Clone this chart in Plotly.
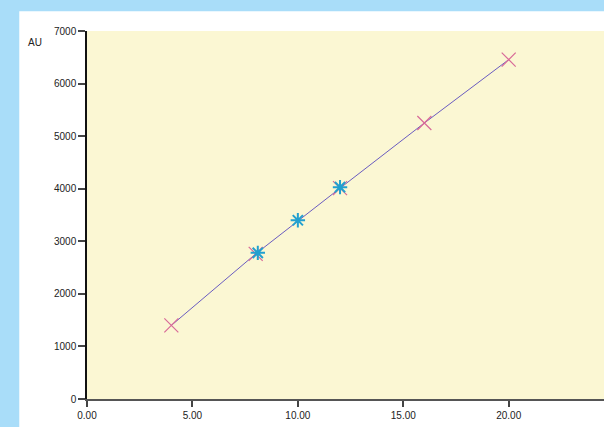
import plotly.graph_objects as go

# Calibration standards (concentration vs response, AU)
std_conc = [4.0, 8.0, 12.0, 16.0, 20.0]
std_resp = [1400, 2760, 4010, 5250, 6455]

# Samples measured
smp_conc = [8.1, 10.0, 12.0]
smp_resp = [2780, 3400, 4030]

x_ticks = [0, 5, 10, 15, 20]
x_tick_labels = ["0.00", "5.00", "10.00", "15.00", "20.00"]
y_ticks = [0, 1000, 2000, 3000, 4000, 5000, 6000, 7000]

fig = go.Figure()

fig.add_trace(go.Scatter(
    x=std_conc, y=std_resp, mode="lines",
    line=dict(color="#6a5cc0", width=1), hoverinfo="skip", showlegend=False))

fig.add_trace(go.Scatter(
    x=std_conc, y=std_resp, mode="markers",
    marker=dict(symbol="x-thin-open", size=14, color="#d86a98",
                line=dict(color="#d86a98", width=1.2)),
    showlegend=False))

fig.add_trace(go.Scatter(
    x=smp_conc, y=smp_resp, mode="markers",
    marker=dict(symbol="asterisk-open", size=12, color="#22a0cf",
                line=dict(color="#22a0cf", width=2)),
    showlegend=False))

fig.update_layout(
    width=604, height=427,
    margin=dict(l=87, r=0, t=31, b=28),
    paper_bgcolor="#a9ddf9",
    plot_bgcolor="#fbf7d3",
    font=dict(family="Liberation Sans, Arial, sans-serif", size=10, color="#222222"),
    shapes=[
        dict(type="rect", xref="paper", yref="paper", x0=-0.131, x1=1.02, y0=-0.1, y1=1.054,
             fillcolor="white", line=dict(width=0), layer="below"),
        dict(type="rect", xref="paper", yref="paper", x0=0, x1=1.02, y0=0, y1=1,
             fillcolor="#fbf7d3", line=dict(width=0), layer="below"),
    ],
    annotations=[
        dict(text="AU", xref="paper", yref="paper", x=-0.1, y=0.968,
             xanchor="center", yanchor="middle", showarrow=False,
             font=dict(size=10, color="#222222")),
    ],
)

fig.update_xaxes(
    range=[0, 24.52], tickvals=x_ticks, ticktext=x_tick_labels,
    showgrid=False, zeroline=False,
    showline=True, linecolor="#555555", linewidth=1.5,
    ticks="outside", ticklen=6, tickcolor="#444444", tickwidth=1.5,
)
fig.update_yaxes(
    range=[0, 7000], tickvals=y_ticks,
    showgrid=False, zeroline=False,
    showline=True, linecolor="#111111", linewidth=1.5,
    ticks="outside", ticklen=7, tickcolor="#444444", tickwidth=1.5,
)

fig.write_html("out.html", config={"displayModeBar": False},
               post_script="document.body.style.margin='0';document.body.style.overflow='hidden';")
